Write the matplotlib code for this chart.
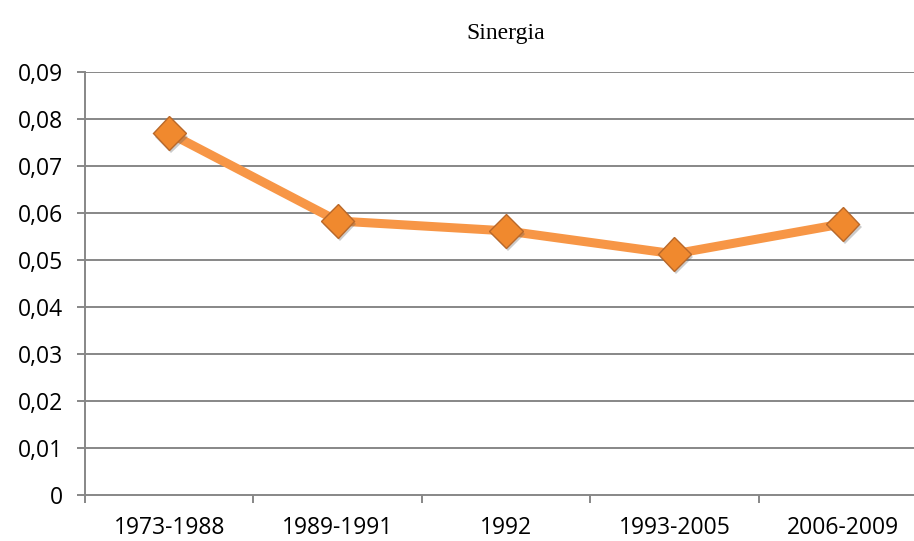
import matplotlib.pyplot as plt
import matplotlib.patheffects as pe
import numpy as np

periods = ["1973-1988", "1989-1991", "1992", "1993-2005", "2006-2009"]
sinergia = [0.0770, 0.0583, 0.0562, 0.0513, 0.0577]
y_ticks = [0, 0.01, 0.02, 0.03, 0.04, 0.05, 0.06, 0.07, 0.08, 0.09]
y_labels = ["0", "0,01", "0,02", "0,03", "0,04", "0,05", "0,06", "0,07", "0,08", "0,09"]

fig = plt.figure(figsize=(9.14, 5.41), dpi=100)
ax = fig.add_axes([85 / 914, 46 / 541, 842 / 914, 423 / 541])

x = np.arange(len(periods))
ax.plot(x, sinergia, color="#F79646", lw=6.5, solid_capstyle="butt", zorder=3)
ax.plot(x, sinergia, ls="none", marker="D", ms=17, mfc="#F0892E", mec="#B8682A",
        mew=1.0, zorder=4,
        path_effects=[pe.SimplePatchShadow(offset=(1.5, -2.5), shadow_rgbFace="#555555", alpha=0.3),
                      pe.Normal()])

ax.set_xlim(-0.5, len(periods) - 0.5)
ax.set_ylim(0, 0.09)
ax.set_yticks(y_ticks)
ax.set_yticklabels(y_labels)
ax.set_xticks(x)
ax.set_xticklabels(periods)
ax.set_xticks(np.arange(-0.5, len(periods)), minor=True)

for v in y_ticks[1:]:
    ax.axhline(v, color="#878787", lw=1.4, zorder=1)

for s in ["top", "right"]:
    ax.spines[s].set_visible(False)
for s in ["left", "bottom"]:
    ax.spines[s].set_color("#878787")
    ax.spines[s].set_linewidth(1.4)

ax.tick_params(axis="y", length=6, width=1.4, color="#878787", labelsize=16.5, pad=10)
ax.tick_params(axis="x", which="major", length=0, labelsize=16.5, pad=15)
ax.tick_params(axis="x", which="minor", length=6, width=1.4, color="#878787")
for lab in ax.get_xticklabels() + ax.get_yticklabels():
    lab.set_fontfamily("Open Sans")

fig.text(506 / 914, 1 - 33 / 541, "Sinergia", ha="center", va="center",
         fontsize=17, family="Liberation Serif")

fig.savefig("out.png", dpi=100)
